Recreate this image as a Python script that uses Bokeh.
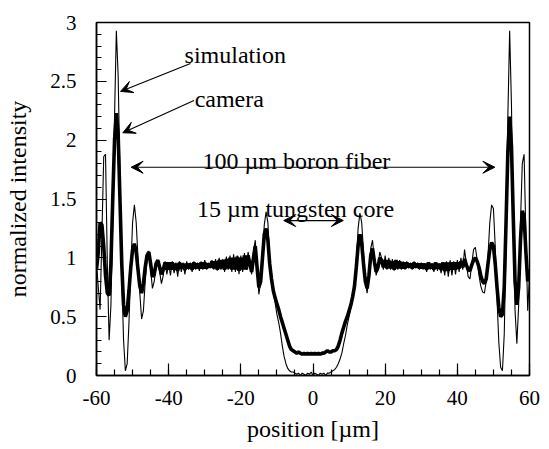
from bokeh.plotting import figure
from bokeh.models import Range1d, SingleIntervalTicker, CustomJSTickFormatter, Label, Arrow, VeeHead
from bokeh.embed import file_html
from bokeh.resources import INLINE

# sampling grid of positions (µm)
position = [i * 0.5 - 60 for i in range(241)]

simulation = [
    0.95, 0.75, 0.56, 1.20, 1.86, 1.88, 0.95, 0.30, 0.60, 1.30,
    2.20, 2.93, 2.55, 1.70, 0.85, 0.30, 0.04, 0.10, 0.45, 0.90,
    1.30, 1.45, 1.30, 1.00, 0.70, 0.48, 0.55, 0.80, 0.98, 1.06,
    0.90, 0.74, 0.80, 0.92, 0.98, 0.88, 0.78, 0.85, 0.97, 0.86,
    0.95, 0.85, 0.97, 0.87, 0.96, 0.84, 0.97, 0.88, 0.96, 0.86,
    0.97, 0.90, 0.96, 0.88, 0.97, 0.90, 0.96, 0.89, 0.97, 0.90,
    0.98, 0.90, 0.96, 0.91, 0.98, 0.90, 0.99, 0.89, 1.00, 0.90,
    0.99, 0.88, 1.01, 0.90, 1.02, 0.88, 1.03, 0.88, 1.02, 0.86,
    1.02, 0.88, 1.04, 0.90, 1.05, 0.95, 0.86, 1.05, 1.15, 0.90,
    0.69, 0.80, 1.05, 1.28, 1.39, 1.30, 1.00, 0.80, 0.70, 0.62,
    0.52, 0.45, 0.36, 0.25, 0.16, 0.10, 0.06, 0.04, 0.03, 0.03,
    0.02, 0.01, 0.02, 0.00, 0.02, 0.01, 0.00, 0.02, 0.01, 0.03,
    0.00, 0.02, 0.01, 0.00, 0.02, 0.01, 0.02, 0.00, 0.02, 0.02,
    0.03, 0.04, 0.05, 0.07, 0.10, 0.14, 0.19, 0.27, 0.34, 0.43,
    0.50, 0.57, 0.66, 0.78, 0.98, 1.25, 1.38, 1.30, 1.05, 0.80,
    0.70, 0.85, 1.08, 1.15, 0.98, 0.85, 0.92, 1.05, 1.00, 0.90,
    1.02, 0.90, 1.00, 0.90, 0.99, 0.89, 0.98, 0.90, 0.98, 0.90,
    0.97, 0.90, 0.97, 0.91, 0.96, 0.90, 0.97, 0.91, 0.96, 0.90,
    0.96, 0.90, 0.95, 0.88, 0.96, 0.90, 0.95, 0.88, 0.96, 0.89,
    0.95, 0.87, 0.96, 0.85, 0.97, 0.84, 0.98, 0.85, 0.97, 0.86,
    0.98, 0.88, 1.00, 0.90, 1.07, 0.95, 0.84, 0.82, 0.95, 1.07,
    1.09, 0.98, 0.85, 0.76, 0.71, 0.70, 0.80, 1.02, 1.30, 1.45,
    1.42, 1.10, 0.65, 0.28, 0.07, 0.04, 0.35, 1.10, 2.20, 2.93,
    2.30, 1.25, 0.55, 0.27, 0.60, 1.30, 1.80, 1.88, 1.20, 0.55,
    0.85,
]

camera = [
    0.90, 1.05, 1.30, 1.28, 1.10, 0.85, 0.70, 0.68, 0.95, 1.50,
    2.00, 2.23, 2.05, 1.50, 0.95, 0.60, 0.50, 0.55, 0.72, 0.92,
    1.07, 1.12, 1.05, 0.90, 0.76, 0.70, 0.78, 0.92, 1.02, 1.05,
    0.95, 0.84, 0.86, 0.95, 0.98, 0.92, 0.86, 0.90, 0.96, 0.90,
    0.96, 0.90, 0.96, 0.90, 0.95, 0.89, 0.96, 0.91, 0.95, 0.90,
    0.95, 0.91, 0.95, 0.90, 0.96, 0.91, 0.95, 0.91, 0.96, 0.91,
    0.96, 0.91, 0.95, 0.92, 0.97, 0.91, 0.97, 0.90, 0.98, 0.91,
    0.98, 0.90, 0.99, 0.91, 1.00, 0.90, 1.00, 0.90, 1.01, 0.89,
    1.00, 0.90, 1.02, 0.90, 1.02, 0.95, 0.88, 1.00, 1.10, 0.92,
    0.75, 0.80, 1.00, 1.20, 1.25, 1.15, 0.95, 0.82, 0.72, 0.66,
    0.61, 0.56, 0.50, 0.45, 0.40, 0.35, 0.30, 0.25, 0.22, 0.21,
    0.20, 0.19, 0.20, 0.19, 0.18, 0.19, 0.18, 0.19, 0.18, 0.19,
    0.18, 0.19, 0.18, 0.19, 0.18, 0.19, 0.19, 0.20, 0.21, 0.20,
    0.20, 0.21, 0.21, 0.22, 0.25, 0.30, 0.36, 0.41, 0.46, 0.50,
    0.55, 0.60, 0.67, 0.76, 0.92, 1.10, 1.20, 1.12, 0.95, 0.80,
    0.74, 0.85, 1.02, 1.08, 0.97, 0.88, 0.92, 1.00, 0.98, 0.92,
    0.98, 0.91, 0.98, 0.91, 0.97, 0.90, 0.98, 0.91, 0.97, 0.91,
    0.96, 0.91, 0.96, 0.92, 0.95, 0.91, 0.96, 0.92, 0.95, 0.91,
    0.95, 0.91, 0.95, 0.90, 0.96, 0.91, 0.95, 0.90, 0.96, 0.91,
    0.95, 0.90, 0.96, 0.89, 0.96, 0.89, 0.96, 0.90, 0.96, 0.90,
    0.96, 0.91, 0.97, 0.92, 0.99, 0.94, 0.90, 0.89, 0.94, 0.98,
    1.00, 0.97, 0.92, 0.85, 0.80, 0.78, 0.82, 0.95, 1.07, 1.13,
    1.10, 0.95, 0.75, 0.58, 0.50, 0.52, 0.75, 1.30, 1.90, 2.20,
    1.95, 1.35, 0.80, 0.60, 0.75, 1.15, 1.40, 1.35, 1.05, 0.80,
    0.90,
]

x_label = "position [µm]"
y_label = "normalized intensity"
annotation_texts = ["simulation", "camera", "100 µm boron fiber", "15 µm tungsten core"]

FONT = "Liberation Serif"

p = figure(width=549, height=449, output_backend="svg", toolbar_location=None,
           x_range=Range1d(-60, 60), y_range=Range1d(0, 3),
           min_border_left=96, min_border_right=20, min_border_top=22, min_border_bottom=74)
p.background_fill_color = "white"
p.border_fill_color = "white"
p.outline_line_color = "black"
p.outline_line_width = 1.5
p.xgrid.visible = False
p.ygrid.visible = False

p.line(position, simulation, line_color="black", line_width=1.1)
p.line(position, camera, line_color="black", line_width=3.6)

p.xaxis.ticker = SingleIntervalTicker(interval=20, num_minor_ticks=4)
p.yaxis.ticker = SingleIntervalTicker(interval=0.5, num_minor_ticks=5)
p.yaxis.formatter = CustomJSTickFormatter(code="return String(Math.round(tick*10)/10);")
p.xaxis.formatter = CustomJSTickFormatter(code="return String(Math.round(tick));")

for ax in (p.xaxis[0], p.yaxis[0]):
    ax.axis_line_color = "black"
    ax.axis_line_width = 1.5
    ax.major_tick_line_color = "black"
    ax.minor_tick_line_color = "black"
    ax.major_tick_line_width = 1.2
    ax.minor_tick_line_width = 1.2
    ax.major_tick_out = 0
    ax.minor_tick_out = 0
    ax.major_label_text_font = FONT
    ax.major_label_text_font_size = "21px"
    ax.major_label_text_color = "black"
    ax.axis_label_text_font = FONT
    ax.axis_label_text_font_size = "24px"
    ax.axis_label_text_font_style = "normal"
    ax.axis_label_text_color = "black"

p.xaxis.major_tick_in = 12
p.xaxis.minor_tick_in = 6
p.yaxis.major_tick_in = 10
p.yaxis.minor_tick_in = 5
p.xaxis.major_label_standoff = 15
p.yaxis.major_label_standoff = 20
p.xaxis.axis_label_standoff = 8
p.yaxis.axis_label_standoff = 16
p.xaxis.axis_label = x_label
p.yaxis.axis_label = y_label

def add_label(x, y, text, align="left"):
    p.add_layout(Label(x=x, y=y, text=text, text_font=FONT, text_font_size="24px",
                       text_color="black", text_align=align, text_baseline="alphabetic"))

add_label(-35.6, 2.72, annotation_texts[0])
add_label(-32.8, 2.354, annotation_texts[1])
add_label(-4.6, 1.827, annotation_texts[2], "center")
add_label(-4.85, 1.419, annotation_texts[3], "center")

def head():
    return VeeHead(size=12, fill_color="black", line_color="black", line_width=1)

p.add_layout(Arrow(x_start=-33.95, y_start=2.651, x_end=-53.35, y_end=2.414,
                   end=head(), line_color="black", line_width=1.2))
p.add_layout(Arrow(x_start=-33.0, y_start=2.337, x_end=-52.7, y_end=2.063,
                   end=head(), line_color="black", line_width=1.2))
p.add_layout(Arrow(x_start=-50.4, y_start=1.77, x_end=50.4, y_end=1.77,
                   start=head(), end=head(), line_color="black", line_width=1.2))
p.add_layout(Arrow(x_start=-8.1, y_start=1.317, x_end=8.4, y_end=1.317,
                   start=head(), end=head(), line_color="black", line_width=1.2))

open("out.html", "w").write(file_html(p, INLINE))
